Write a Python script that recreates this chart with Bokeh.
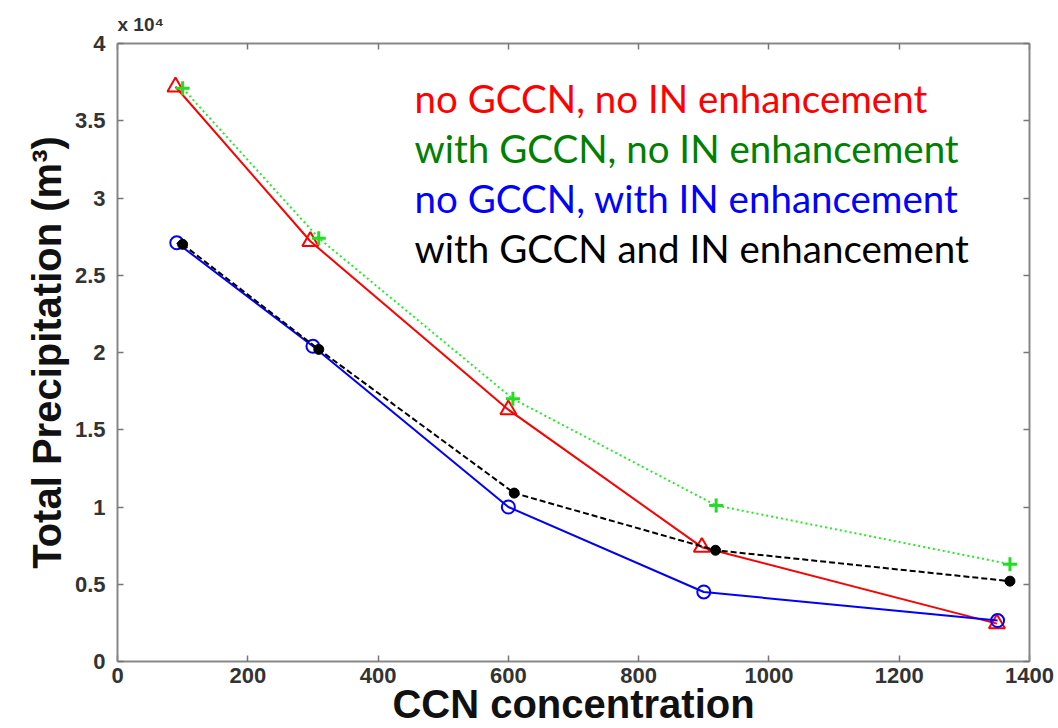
from bokeh.plotting import figure
from bokeh.models import (LinearAxis, SingleIntervalTicker, CustomJSTickFormatter,
                          Label, Range1d, Title)
from bokeh.embed import file_html
from bokeh.resources import INLINE

# CCN concentration (x) and total precipitation (x 10^4 m^3)
x_red = [89, 296, 600, 897, 1350]
y_red = [3.72, 2.72, 1.63, 0.74, 0.245]
x_green = [100, 309, 607, 919, 1370]
y_green = [3.71, 2.74, 1.70, 1.01, 0.63]
x_blue = [91, 300, 600, 900, 1351]
y_blue = [2.71, 2.04, 1.00, 0.45, 0.265]
x_black = [100, 309, 609, 918, 1370]
y_black = [2.70, 2.02, 1.09, 0.72, 0.52]

legend_texts = ["no GCCN, no IN enhancement", "with GCCN, no IN enhancement",
                "no GCCN, with IN enhancement", "with GCCN and IN enhancement"]
legend_colors = ["#ff0000", "#008000", "#0000ff", "#000000"]

W, H = 1058, 728
p = figure(width=W, height=H, output_backend="svg", toolbar_location=None,
           x_range=Range1d(0, 1400), y_range=Range1d(0, 4),
           min_border_left=117, min_border_right=29, min_border_top=43,
           min_border_bottom=67)
p.outline_line_color = None
p.grid.visible = False
p.background_fill_color = "white"
p.border_fill_color = "white"

fmt = CustomJSTickFormatter(code="return String(Math.round(tick*10)/10);")

def style_axis(ax, labels=True):
    ax.axis_line_color = "#888888"
    ax.axis_line_width = 2
    ax.major_tick_line_color = "#777777"
    ax.major_tick_line_width = 1.5
    ax.major_tick_in = 6
    ax.major_tick_out = 0
    ax.minor_tick_line_color = None
    ax.major_label_text_font = "Liberation Sans"
    ax.major_label_text_font_style = "bold"
    ax.major_label_text_font_size = "22px"
    ax.major_label_text_color = "#333333"
    ax.axis_label_text_font = "Liberation Sans"
    ax.axis_label_text_font_style = "bold"
    ax.axis_label_text_font_size = "40px"
    ax.axis_label_text_color = "#111111"
    if not labels:
        ax.major_label_text_font_size = "0px"
        ax.major_label_text_color = None

p.xaxis.ticker = SingleIntervalTicker(interval=200)
p.yaxis.ticker = SingleIntervalTicker(interval=0.5)
p.xaxis.formatter = fmt
p.yaxis.formatter = fmt
style_axis(p.xaxis[0])
style_axis(p.yaxis[0])
p.xaxis.axis_label = "CCN concentration"
p.yaxis.axis_label = "Total Precipitation (m³)"
p.xaxis.major_label_standoff = 2
p.xaxis.axis_label_standoff = -4
p.yaxis.major_label_standoff = 8
p.yaxis.axis_label_standoff = 3

top = LinearAxis(ticker=SingleIntervalTicker(interval=200))
style_axis(top, labels=False)
p.add_layout(top, "above")
right = LinearAxis(ticker=SingleIntervalTicker(interval=0.5))
style_axis(right, labels=False)
p.add_layout(right, "right")

p.add_layout(Title(text="x 10⁴", align="left", text_font="Liberation Sans",
                   text_font_style="bold", text_font_size="19px",
                   text_color="#333333", offset=0), "above")

# series
p.line(x_red, y_red, line_color="#ff0000", line_width=2)
p.scatter(x_red, y_red, marker="triangle", size=16, fill_color=None,
          line_color="#ff0000", line_width=2)

p.line(x_green, y_green, line_color="#22ee22", line_width=2, line_dash="2 3")
p.scatter(x_green, y_green, marker="cross", size=14,
          line_color="#22dd22", line_width=3)

p.line(x_blue, y_blue, line_color="#0000ff", line_width=2)
p.scatter(x_blue, y_blue, marker="circle", size=13, fill_color=None,
          line_color="#0000ff", line_width=2)

p.line(x_black, y_black, line_color="#000000", line_width=2, line_dash="6 3")
p.scatter(x_black, y_black, marker="circle", size=10, fill_color="#000000",
          line_color="#000000")

# legend-like coloured texts
for i, (t, c) in enumerate(zip(legend_texts, legend_colors)):
    p.add_layout(Label(x=456, y=3.553, y_offset=15 - 50 * i, text=t,
                       text_font="Lato", text_font_size="38.5px",
                       text_color=c, text_baseline="alphabetic"))

open("out.html", "w").write(file_html(p, INLINE))
